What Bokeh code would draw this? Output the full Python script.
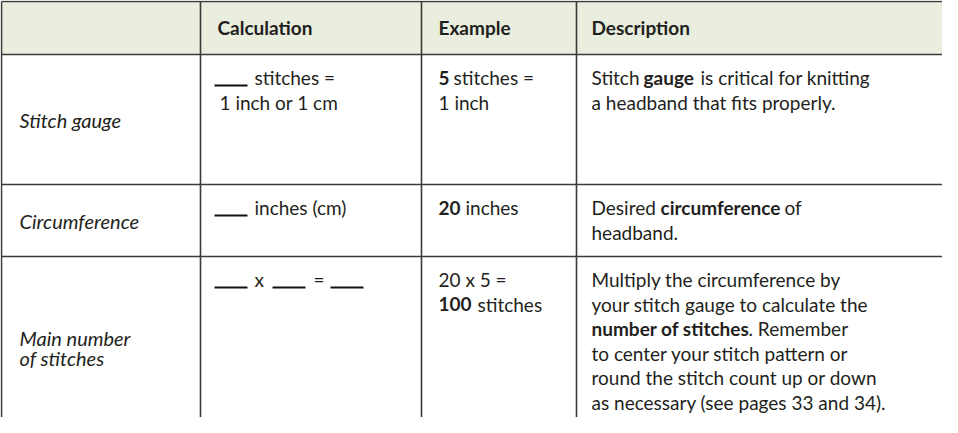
from bokeh.plotting import figure
from bokeh.models import Range1d, ColumnDataSource
from bokeh.core.properties import value
from bokeh.embed import file_html
from bokeh.resources import INLINE

# ---------------- data ----------------
headers = ["", "Calculation", "Example", "Description"]
row_labels = [["Stitch gauge"], ["Circumference"], ["Main number", "of stitches"]]

# calculation column: each line is a list of runs (kind, text); kind "blank" = write-in line
calc_lines = [
    [[("blank", ""), ("text", "stitches =")], [("text", "1 inch or 1 cm")]],
    [[("blank", ""), ("text", "inches (cm)")]],
    [[("blank", ""), ("text", "x"), ("blank", ""), ("text", "="), ("blank", "")]],
]
# example column: runs of (bold, text)
example_lines = [
    [[(1, "5"), (0, "stitches =")], [(0, "1 inch")]],
    [[(1, "20"), (0, "inches")]],
    [[(0, "20 x 5 =")], [(1, "100"), (0, "stitches")]],
]
# description column: runs of (bold, text)
desc_lines = [
    [[(0, "Stitch"), (1, "gauge"), (0, "is critical for knitting")],
     [(0, "a headband that fits properly.")]],
    [[(0, "Desired"), (1, "circumference"), (0, "of")],
     [(0, "headband.")]],
    [[(0, "Multiply the circumference by")],
     [(0, "your stitch gauge to calculate the")],
     [(1, "number of stitches"), (0, ". Remember")],
     [(0, "to center your stitch pattern or")],
     [(0, "round the stitch count up or down")],
     [(0, "as necessary (see pages 33 and 34).")]],
]

# ---------------- layout (pixel positions of the page) ----------------
col_edges = [4, 203, 424, 579, 962]
row_edges = [2, 55, 185, 257, 440]
header_y = 28
line_h = 24.6
first_line_off = 23
label_line_h = 20
text_x = [22, 220, 441, 594]
# x start of each run (same shape as the run lists)
calc_run_x = [
    [[217, 257], [222]],
    [[217, 257]],
    [[217, 257, 275, 316, 333]],
]
blank_w = 33
example_run_x = [
    [[441, 456], [441]],
    [[441, 468]],
    [[441], [441, 480]],
]
desc_run_x = [
    [[594, 646, 703], [594]],
    [[594, 663, 787], [594]],
    [[594], [594], [594, 751], [594], [594], [594]],
]

FONT = "Lato"
BODY = "19px"
INK = "#231f20"
LINE = "#3a3a3a"

W, H = 942, 417
p = figure(width=W, height=H, output_backend="svg", toolbar_location=None,
           x_range=Range1d(3, 3 + W), y_range=Range1d(1 + H, 1),
           min_border=0, outline_line_color=None, background_fill_color="white",
           border_fill_color="white")
p.axis.visible = False
p.grid.visible = False

# header band
p.quad(left=[col_edges[0]], right=[col_edges[-1]], top=[row_edges[0]], bottom=[row_edges[1]],
       fill_color="#e9eedf", line_color=None)

# grid lines
vx = col_edges[:-1]
p.segment(x0=vx, x1=vx, y0=[row_edges[0]] * len(vx), y1=[row_edges[-1]] * len(vx),
          line_color=LINE, line_width=1.6)
hy = row_edges[:-1]
p.segment(x0=[col_edges[0]] * len(hy), x1=[col_edges[-1]] * len(hy), y0=hy, y1=hy,
          line_color=LINE, line_width=1.6)

texts = {"normal": dict(x=[], y=[], t=[]), "bold": dict(x=[], y=[], t=[])}
def add(style, x, y, t):
    texts[style]["x"].append(x); texts[style]["y"].append(y); texts[style]["t"].append(t)

# headers
for i, h in enumerate(headers):
    if h:
        p.text(x=[text_x[i]], y=[header_y], text=[h], text_font=value(FONT), text_font_size="19px",
               text_font_style="bold", text_color=INK, text_baseline="middle", text_align="left")

# row labels (italic, vertically centred)
for r, lab in enumerate(row_labels):
    top = row_edges[r + 1]
    mid = (row_edges[r + 2] + top) / 2 if r < 2 else 348
    n = len(lab)
    ys = [mid + (k - (n - 1) / 2) * label_line_h for k in range(n)]
    p.text(x=[text_x[0]] * n, y=ys, text=lab, text_font=value(FONT), text_font_size="20px",
           text_font_style="italic", text_color=INK, text_baseline="middle", text_align="left")

bx0, bx1, by = [], [], []
for r, lines in enumerate(calc_lines):
    for li, runs in enumerate(lines):
        y = row_edges[r + 1] + first_line_off + li * line_h
        for ri, (kind, t) in enumerate(runs):
            x = calc_run_x[r][li][ri]
            if kind == "blank":
                bx0.append(x); bx1.append(x + blank_w); by.append(y + 8)
            else:
                add("normal", x, y, t)
p.segment(x0=bx0, x1=bx1, y0=by, y1=by, line_color="#111111", line_width=1.8)

for lines_all, xs_all in ((example_lines, example_run_x), (desc_lines, desc_run_x)):
    for r, lines in enumerate(lines_all):
        for li, runs in enumerate(lines):
            y = row_edges[r + 1] + first_line_off + li * line_h
            for ri, (b, t) in enumerate(runs):
                add("bold" if b else "normal", xs_all[r][li][ri], y, t)

for style, d in texts.items():
    src = ColumnDataSource(dict(x=d["x"], y=d["y"], t=d["t"]))
    p.text(x="x", y="y", text="t", source=src, text_font=value(FONT), text_font_size=BODY,
           text_font_style=style, text_color=INK, text_baseline="middle", text_align="left")

open("out.html", "w").write(file_html(p, INLINE))
